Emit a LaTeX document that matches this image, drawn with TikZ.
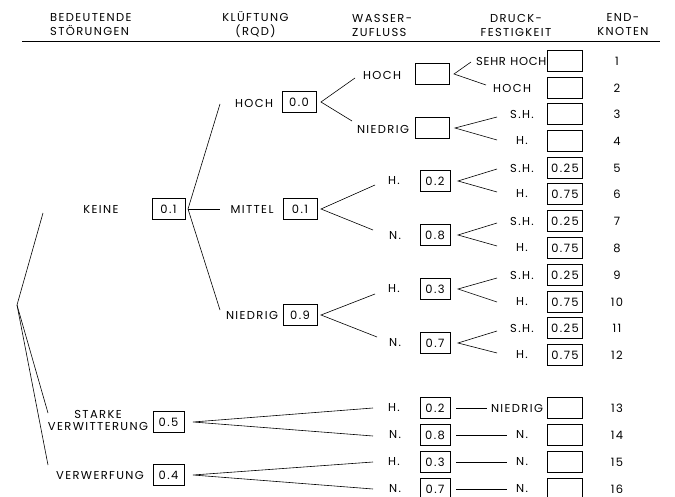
\documentclass[tikz,border=0pt]{standalone}
\usepackage{fontspec}
\setmainfont{Poppins}[LetterSpace=12]
\begin{document}
\begin{tikzpicture}[x=1pt,y=-1pt,
  every node/.style={font=\fontsize{11.5}{14}\selectfont, inner sep=0pt},
  pbox/.style={draw, line width=0.9pt, minimum width=34pt, minimum height=21pt},
  wbox/.style={pbox, minimum width=30pt},
  ebox/.style={pbox, minimum width=35pt},
  con/.style={line width=0.6pt},
  two/.style={font=\fontsize{11.5}{12}\selectfont, align=center}
]
\useasboundingbox (0,0) rectangle (675,497);
% headers
\node[anchor=west, align=left] (hA) at (50,25) {BEDEUTENDE\\STÖRUNGEN};
\node[align=center] (hB) at (255.5,25) {KLÜFTUNG\\(RQD)};
\node[anchor=west, align=left] (hC) at (352,25) {WASSER-\\ZUFLUSS};
\node[align=center] (hD) at (516,25) {DRUCK-\\FESTIGKEIT};
\node[align=center] (hE) at (623,25) {END-\\KNOTEN};
\coordinate (rL) at (22,42);
\coordinate (rR) at (660,42);
\draw[line width=1pt] (rL) -- (rR);
% level 1
\coordinate (root) at (17,305);
\node (tK) at (101,209) {KEINE};
\node[pbox, minimum width=33pt] (bK) at (168.5,209) {0.1};
\node[two] (tS) at (98,420) {STARKE\\VERWITTERUNG};
\node[pbox, minimum width=31pt] (bS) at (168.5,422) {0.5};
\node (tV) at (100,475) {VERWERFUNG};
\node[pbox, minimum width=31pt] (bV) at (168.5,475) {0.4};
\coordinate (eK) at (43,213);
\coordinate (eS) at (48,413);
\coordinate (eV) at (48,465);
\draw[con] (eK) -- (root) -- (eS);
\draw[con] (root) -- (eV);
% level 2
\coordinate (fK) at (188,209);
\node (tC1) at (254,103) {HOCH};
\node[pbox] (bC1) at (299,102) {0.0};
\node (tC2) at (252,209) {MITTEL};
\node[pbox] (bC2) at (300,209) {0.1};
\node (tC3) at (252,315) {NIEDRIG};
\node[pbox] (bC3) at (300,315) {0.9};
\coordinate (eC1) at (220,104);
\coordinate (eC2) at (220,209);
\coordinate (eC3) at (220,310);
\draw[con] (eC1) -- (fK) -- (eC3);
\draw[con] (fK) -- (eC2);
% level 3
\coordinate (fC1) at (321,102);
\coordinate (fC2) at (321,209);
\coordinate (fC3) at (321,315);
\coordinate (fS) at (193,422);
\coordinate (fV) at (193,475);
\node (tW1) at (382,75) {HOCH};
\node[pbox] (bW1) at (432,74) {};
\node (tW2) at (383,129) {NIEDRIG};
\node[pbox] (bW2) at (432,128) {};
\node (tW3) at (394,181) {H.};
\node[wbox] (bW3) at (435,181) {0.2};
\node (tW4) at (395,236) {N.};
\node[wbox] (bW4) at (435,235) {0.8};
\node (tW5) at (394,289) {H.};
\node[wbox] (bW5) at (435,289) {0.3};
\node (tW6) at (395,343) {N.};
\node[wbox] (bW6) at (435,343) {0.7};
\node (tW7) at (394,408) {H.};
\node[wbox] (bW7) at (435,408) {0.2};
\node (tW8) at (395,435) {N.};
\node[wbox] (bW8) at (435,435) {0.8};
\node (tW9) at (394,462) {H.};
\node[wbox] (bW9) at (435,462) {0.3};
\node (tW10) at (395,489) {N.};
\node[wbox] (bW10) at (435,489) {0.7};
\coordinate (eW1) at (355,78);
\coordinate (eW2) at (352,121);
\coordinate (eW3) at (375,185);
\coordinate (eW4) at (373,230);
\coordinate (eW5) at (375,294);
\coordinate (eW6) at (377,337);
\coordinate (eW7) at (373,408);
\coordinate (eW8) at (373,436);
\coordinate (eW9) at (373,462);
\coordinate (eW10) at (373,489);
\draw[con] (eW1) -- (fC1) -- (eW2);
\draw[con] (eW3) -- (fC2) -- (eW4);
\draw[con] (eW5) -- (fC3) -- (eW6);
\draw[con] (eW7) -- (fS) -- (eW8);
\draw[con] (eW9) -- (fV) -- (eW10);
% level 4
\coordinate (fW1) at (454,74);
\coordinate (fW2) at (455,128);
\coordinate (fW3) at (458,181);
\coordinate (fW4) at (458,235);
\coordinate (fW5) at (458,289);
\coordinate (fW6) at (458,343);
\coordinate (sW7) at (456,408);
\coordinate (sW8) at (456,435);
\coordinate (sW9) at (456,462);
\coordinate (sW10) at (456,489);
\coordinate (eD1) at (471,62);
\coordinate (eD2) at (486,85);
\coordinate (eD3) at (497,117);
\coordinate (eD4) at (497,140);
\coordinate (eD5) at (497,169);
\coordinate (eD6) at (497,192);
\coordinate (eD7) at (497,223);
\coordinate (eD8) at (497,246);
\coordinate (eD9) at (497,278);
\coordinate (eD10) at (497,302);
\coordinate (eD11) at (497,331);
\coordinate (eD12) at (497,353);
\coordinate (eD13) at (487,408);
\coordinate (eD14) at (507,435);
\coordinate (eD15) at (507,462);
\coordinate (eD16) at (507,489);
\draw[con] (eD1) -- (fW1) -- (eD2);
\draw[con] (eD3) -- (fW2) -- (eD4);
\draw[con] (eD5) -- (fW3) -- (eD6);
\draw[con] (eD7) -- (fW4) -- (eD8);
\draw[con] (eD9) -- (fW5) -- (eD10);
\draw[con] (eD11) -- (fW6) -- (eD12);
\draw[con] (sW7) -- (eD13);
\draw[con] (sW8) -- (eD14);
\draw[con] (sW9) -- (eD15);
\draw[con] (sW10) -- (eD16);
\node[anchor=east] (tD1) at (546.5,61) {\addfontfeature{LetterSpace=6}SEHR\kern4.5pt HOCH};
\node (tD2) at (512,88) {HOCH};
\node (tD3) at (522,114) {S.H.};
\node (tD4) at (522,141) {H.};
\node (tD5) at (522,168) {S.H.};
\node (tD6) at (522,194) {H.};
\node (tD7) at (522,221) {S.H.};
\node (tD8) at (522,248) {H.};
\node (tD9) at (522,275) {S.H.};
\node (tD10) at (522,302) {H.};
\node (tD11) at (522,328) {S.H.};
\node (tD12) at (522,355) {H.};
\node (tD13) at (517,408) {NIEDRIG};
\node (tD14) at (522,435) {N.};
\node (tD15) at (522,462) {N.};
\node (tD16) at (522,489) {N.};
% end boxes and numbers
\foreach \i/\y/\v in {1/61/,2/88/,3/114/,4/141/,5/168/0.25,6/194/0.75,7/221/0.25,8/248/0.75,9/275/0.25,10/302/0.75,11/328/0.25,12/355/0.75,13/408/,14/435/,15/462/,16/489/}{
  \node[ebox] (bE\i) at (565,\y) {\v};
  \node (n\i) at (617,\y) {\i};
}
\end{tikzpicture}
\end{document}
